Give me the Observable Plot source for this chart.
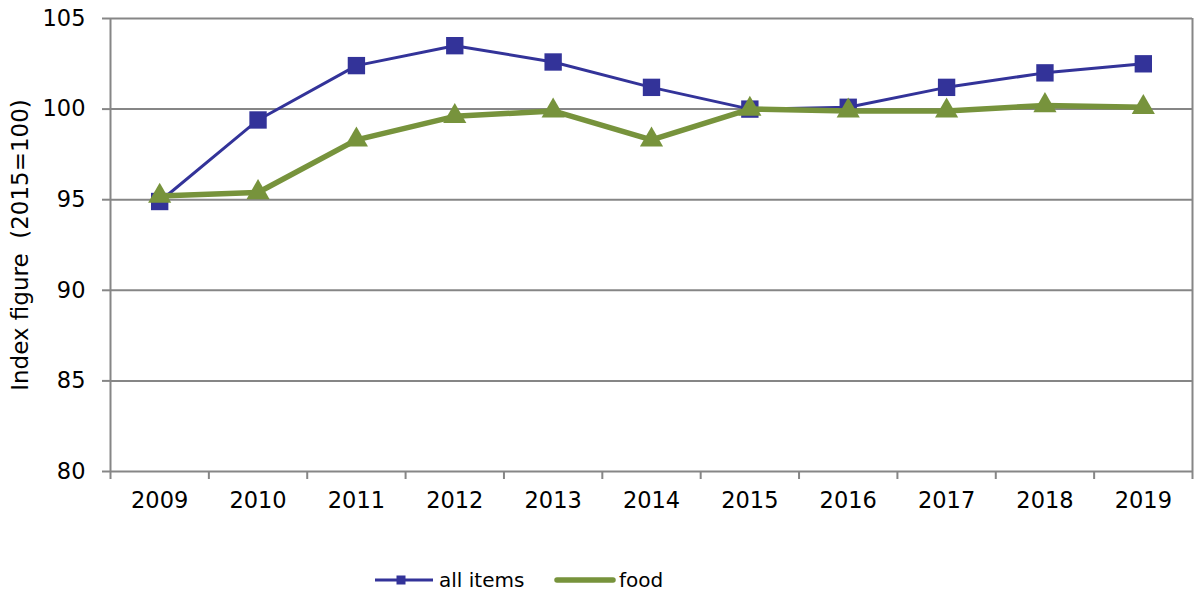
<!DOCTYPE html>
<html><head><meta charset="utf-8">
<script src="https://cdn.jsdelivr.net/npm/d3@7"></script>
<script src="https://cdn.jsdelivr.net/npm/@observablehq/plot@0.6"></script>
<style>
body{margin:0;background:#fff;font-family:"DejaVu Sans",sans-serif}
#legend{height:49px}
</style></head><body><div id="chart"></div><div id="legend"></div>
<script>
const years = [2009, 2010, 2011, 2012, 2013, 2014, 2015, 2016, 2017, 2018, 2019];
const allItems = [94.9, 99.4, 102.4, 103.5, 102.6, 101.2, 100.0, 100.1, 101.2, 102.0, 102.5];
const food = [95.2, 95.4, 98.3, 99.6, 99.9, 98.3, 100.0, 99.9, 99.9, 100.2, 100.1];
const yTicks = [80, 85, 90, 95, 100, 105];
const seriesNames = ["all items", "food"];
const seriesColors = ["#333399", "#77933C"];
const yLabel = "Index figure  (2015=100)";

const data = years.map((year, i) => ({year, allItems: allItems[i], food: food[i]}));
const bounds = years.map(y => y - 0.5).concat([years[years.length - 1] + 0.5]);
const grey = "#868686";

const plot = Plot.plot({
  width: 1197, height: 545,
  marginLeft: 110, marginRight: 5, marginTop: 18, marginBottom: 74,
  x: {type: "linear", domain: [bounds[0], bounds[bounds.length - 1]]},
  y: {domain: [80, 105]},
  style: {fontFamily: "DejaVu Sans", fontSize: "22.5px", color: "#000", background: "#fff"},
  marks: [
    Plot.gridY(yTicks, {stroke: grey, strokeOpacity: 1, strokeWidth: 2}),
    Plot.ruleX([bounds[0], bounds[bounds.length - 1]], {y1: 80, y2: 105, stroke: grey, strokeWidth: 2}),
    Plot.axisY(yTicks, {tickSize: 8, tickFormat: () => "", stroke: grey, strokeWidth: 2, label: null}),
    Plot.axisY(yTicks, {tickSize: 0, tickPadding: 25, label: null, fill: "#000"}),
    Plot.axisX(bounds, {tickSize: 8, tickFormat: () => "", stroke: grey, strokeWidth: 2, label: null}),
    Plot.axisX(years, {tickSize: 0, tickPadding: 21, tickFormat: d => String(d), label: null, fill: "#000"}),
    Plot.text([yLabel], {frameAnchor: "left", dx: -90, rotate: -90, fontSize: 23, fill: "#000", textAnchor: "middle", lineAnchor: "middle"}),
    Plot.line(data, {x: "year", y: "allItems", stroke: seriesColors[0], strokeWidth: 3}),
    Plot.dot(data, {x: "year", y: "allItems", symbol: "square", r: 9.8, fill: seriesColors[0], stroke: "none"}),
    Plot.line(data, {x: "year", y: "food", stroke: seriesColors[1], strokeWidth: 5.5}),
    Plot.dot(data, {x: "year", y: "food", symbol: "triangle", r: 8.6, fill: seriesColors[1], stroke: "none"})
  ]
});
document.getElementById("chart").appendChild(plot);
plot.querySelectorAll("text").forEach(t => { t.setAttribute("xml:space", "preserve"); t.style.whiteSpace = "pre"; });

// legend
const lg = d3.select("#legend").append("svg").attr("width", 1197).attr("height", 49)
  .style("font-family", "DejaVu Sans").style("display", "block");
const ly = 35;
const items = [
  {x1: 375, x2: 433, tx: 439, w: 3, cap: "butt"},
  {x1: 557, x2: 613, tx: 619, w: 5.5, cap: "round"}
];
items.forEach((it, i) => {
  lg.append("line").attr("x1", it.x1).attr("x2", it.x2).attr("y1", ly).attr("y2", ly)
    .attr("stroke", seriesColors[i]).attr("stroke-width", it.w).attr("stroke-linecap", it.cap);
  if (i === 0) lg.append("rect").attr("x", 401 - 4.5).attr("y", ly - 4.5).attr("width", 9).attr("height", 9).attr("fill", seriesColors[0]);
  lg.append("text").attr("x", it.tx).attr("y", ly).attr("dy", "0.35em").attr("font-size", 20).attr("fill", "#000").text(seriesNames[i]);
});
</script></body></html>
